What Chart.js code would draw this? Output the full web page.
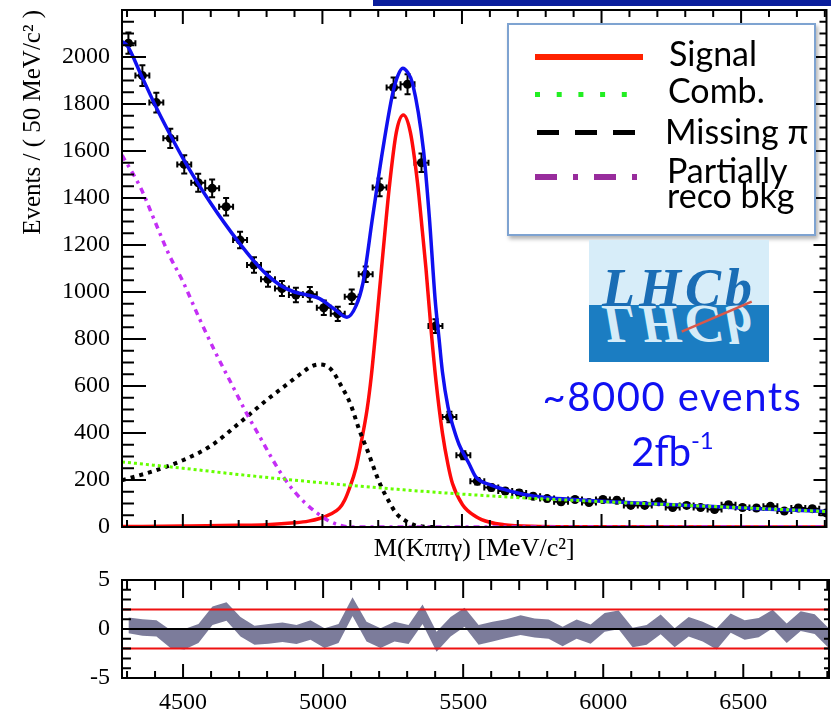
<!DOCTYPE html>
<html>
<head>
<meta charset="utf-8">
<title>M(Kππγ) fit</title>
<script src="https://cdn.jsdelivr.net/npm/chart.js@4.4.1/dist/chart.umd.min.js"></script>
<style>
	html, body { margin: 0; padding: 0; background: #fff; }
	#wrap { position: relative; width: 831px; height: 709px; overflow: hidden; background: #fff; }
	canvas { position: absolute; left: 0; }
	#main { top: 0; }
	#pull { top: 560px; }
	.topbar { position: absolute; left: 373px; top: 0; width: 458px; height: 6px; background: #0a1e9c; }
	.legend {
		position: absolute; left: 507px; top: 23px; width: 309px; height: 213px; box-sizing: border-box;
		border: 2px solid #7ea3d1; background: #fff; box-shadow: 2px 3px 4px rgba(0, 0, 0, 0.3);
		font-family: Lato, "Open Sans", sans-serif; font-size: 34px; line-height: 34px; color: #000;
	}
	.legend svg { position: absolute; left: 0; top: 0; }
	.legend div { position: absolute; white-space: nowrap; }
	.logo {
		position: absolute; left: 589px; top: 240px; width: 180px; height: 122px; overflow: hidden;
		background: linear-gradient(#d7edf9 0, #d7edf9 65px, #1b7dc2 65px, #1b7dc2 100%);
	}
	.logo .lh {
		position: absolute; left: 13px; top: 21px; font-family: "Liberation Serif", serif; font-style: italic;
		font-weight: bold; font-size: 54px; line-height: 54px; letter-spacing: 4px; color: #1a6db5; white-space: nowrap;
	}
	.logo .mirror { color: #d5ecf8; transform-origin: 0 45.2px; transform: scaleY(-1); }
	.logo svg { position: absolute; left: 0; top: 0; }
	.note {
		position: absolute; left: 500px; width: 345px; text-align: center; color: #1010f2;
		font-family: Lato, "Open Sans", sans-serif; font-size: 40px; line-height: 40px; white-space: nowrap;
	}
	.note sup { font-size: 24px; line-height: 0; vertical-align: 17px; }
</style>
</head>
<body>
<div id="wrap">
	<canvas id="main" width="831" height="575"></canvas>
	<canvas id="pull" width="831" height="149"></canvas>
	<div class="topbar"></div>
	<div class="legend">
		<svg width="305" height="209">
			<line x1="26" y1="32" x2="134" y2="32" stroke="#ff2200" stroke-width="6" />
			<line x1="26" y1="69.5" x2="134" y2="69.5" stroke="#22ee22" stroke-width="5" stroke-dasharray="5 16.7" />
			<line x1="28" y1="107.5" x2="134" y2="107.5" stroke="#000" stroke-width="5" stroke-dasharray="22 16" />
			<line x1="26" y1="152" x2="134" y2="152" stroke="#982c9c" stroke-width="6" stroke-dasharray="22 16 5 16" />
		</svg>
		<div style="left: 160px; top: 11px">Signal</div>
		<div style="left: 159px; top: 48px">Comb.</div>
		<div style="left: 156px; top: 89px">Missing π</div>
		<div style="left: 158px; top: 128px">Partially</div>
		<div style="left: 158px; top: 153px">reco bkg</div>
	</div>
	<div class="logo">
		<div class="lh">LHCb</div>
		<div class="lh mirror">LHCb</div>
		<svg width="180" height="122">
			<line x1="92.7" y1="91.7" x2="162.7" y2="61.7" stroke="#d8584a" stroke-width="2.5" />
		</svg>
	</div>
	<div class="note" style="top: 376px; letter-spacing: 1.5px">~8000 events</div>
	<div class="note" style="top: 431px">2fb<sup>-1</sup></div>
</div>
<script>
	// x range of both panels, MeV/c^2
	const xMin = 4282;
	const xMax = 6806;
	const binHalfWidth = 25;

	// data points (50 MeV bins)
	const binCenters = [4305, 4355, 4405, 4455, 4505, 4555, 4605, 4655, 4705, 4755, 4805, 4855, 4905, 4955, 5005, 5055, 5105, 5155, 5205, 5255, 5305, 5355, 5405, 5455, 5505, 5555, 5605, 5655, 5705, 5755, 5805, 5855, 5905, 5955, 6005, 6055, 6105, 6155, 6205, 6255, 6305, 6355, 6405, 6455, 6505, 6555, 6605, 6655, 6705, 6755, 6805];
	const counts = [2059, 1921, 1806, 1654, 1543, 1465, 1441, 1363, 1221, 1115, 1054, 1015, 987, 990, 933, 907, 980, 1076, 1445, 1870, 1884, 1550, 855, 468, 305, 195, 168, 153, 145, 131, 121, 107, 117, 104, 117, 114, 92, 92, 107, 83, 92, 83, 74, 95, 83, 81, 88, 68, 81, 78, 60];
	const countErr = [45, 44, 42, 41, 39, 38, 38, 37, 35, 33, 32, 32, 31, 31, 31, 30, 31, 33, 38, 43, 43, 39, 29, 22, 17, 14, 13, 12, 12, 11, 11, 10, 11, 10, 11, 11, 10, 10, 10, 9, 10, 9, 9, 10, 9, 9, 9, 8, 9, 9, 8];

	// fit components
	const totalX = [4282, 4300, 4350, 4400, 4450, 4500, 4550, 4600, 4650, 4700, 4750, 4800, 4850, 4900, 4950, 4990, 5040, 5088, 5120, 5145, 5180, 5216, 5252, 5270, 5288, 5305, 5323, 5362, 5383, 5404, 5418, 5430, 5450, 5470, 5490, 5525, 5550, 5600, 5650, 5700, 5750, 5800, 5900, 6000, 6200, 6400, 6600, 6806];
	const totalY = [2065, 2050, 1925, 1797, 1680, 1570, 1470, 1378, 1292, 1212, 1138, 1075, 1028, 1000, 986, 972, 930, 893, 940, 1037, 1320, 1604, 1846, 1920, 1952, 1935, 1888, 1604, 1320, 966, 800, 660, 510, 420, 350, 270, 212, 180, 160, 145, 133, 126, 117, 110, 98, 87, 76, 66];
	const signalX = [4282, 4500, 4700, 4800, 4900, 4950, 4990, 5030, 5061, 5080, 5097, 5120, 5139, 5160, 5175, 5190, 5204, 5222, 5240, 5265, 5290, 5315, 5341, 5358, 5371, 5390, 5407, 5430, 5450, 5466, 5502, 5549, 5600, 5650, 5750, 5900, 6806];
	const signalY = [2, 4, 7, 10, 18, 25, 36, 55, 80, 115, 165, 250, 360, 500, 640, 820, 1000, 1230, 1450, 1680, 1753, 1680, 1462, 1260, 1100, 830, 620, 400, 265, 185, 95, 45, 20, 10, 3, 1, 0];
	const combX = [4282, 4500, 4750, 5000, 5250, 5500, 5750, 6000, 6250, 6500, 6806];
	const combY = [277, 250, 217, 188, 162, 140, 122, 108, 95, 82, 66];
	const missX = [4282, 4400, 4500, 4600, 4700, 4800, 4860, 4920, 4960, 4990, 5030, 5070, 5100, 5133, 5160, 5204, 5240, 5265, 5300, 5330, 5360, 5400];
	const missY = [199, 240, 284, 345, 440, 540, 595, 650, 683, 692, 672, 595, 525, 410, 330, 190, 105, 57, 25, 8, 2, 0];
	const partX = [4282, 4350, 4400, 4450, 4500, 4560, 4620, 4680, 4730, 4780, 4820, 4860, 4900, 4940, 4980, 5020, 5060, 5100, 5200, 6806];
	const partY = [1583, 1440, 1300, 1160, 1045, 885, 735, 596, 480, 375, 290, 213, 150, 100, 60, 28, 8, 0, 0, 0];

	// pull band (upper / lower edge per bin)
	const pullHigh = [1.17, 1.0, 0.9, -0.1, 0.0, 0.5, 2.3, 2.73, 1.23, 0.33, 0.5, 0.67, 0.4, 0.9, 0.07, 0.5, 3.23, 0.73, 0.07, 0.73, 0.4, 2.5, -0.27, 1.23, 2.17, 0.4, 0.73, 1.0, 1.4, 1.07, 0.97, 0.23, 0.97, 0.47, 1.63, 1.9, 0.13, 0.4, 1.47, 0.07, 1.23, 0.73, 0.07, 1.57, 0.9, 1.13, 1.97, 0.57, 1.8, 1.5, 0.07];
	const pullLow = [-0.43, -0.7, -0.77, -1.93, -2.1, -1.43, 0.4, 0.83, -0.77, -1.6, -1.5, -1.33, -1.53, -1.1, -1.93, -1.43, 1.33, -1.27, -1.93, -1.27, -1.53, 0.5, -2.33, -0.77, 0.23, -1.6, -1.27, -0.93, -0.6, -0.87, -1.0, -1.77, -1.0, -1.5, -0.27, -0.03, -1.87, -1.6, -0.53, -1.87, -0.77, -1.27, -2.1, -0.37, -1.1, -0.83, 0.07, -1.43, -0.2, -0.5, -1.93];
	const pullLimits = [2, -2];

	// tick labels
	const yTicksMain = [0, 200, 400, 600, 800, 1000, 1200, 1400, 1600, 1800, 2000];
	const yTicksPull = [-5, 0, 5];
	const xTicksPull = [4500, 5000, 5500, 6000, 6500];

	Chart.defaults.font.family = "'Liberation Serif', 'DejaVu Serif', serif";
	Chart.defaults.color = "#000";

	const pts = (xs, ys) => xs.map((v, i) => ({ x: v, y: ys[i] }));
	const labelFn = (v) => String(v);
	const noPad = (s) => {
		s.paddingTop = 0;
		s.paddingBottom = 0;
		s.paddingLeft = 0;
		s.paddingRight = 0;
	};

	// ROOT style frame with inward ticks
	const rootFrame = {
		id: "rootFrame",
		afterDatasetsDraw(chart, args, o) {
			const { ctx, chartArea: a } = chart;
			const sx = chart.scales.x;
			const sy = chart.scales.y;
			ctx.save();
			ctx.strokeStyle = "#000";
			ctx.lineWidth = 2;
			ctx.beginPath();
			for (let v = Math.ceil(sx.min / o.xMinor) * o.xMinor; v <= sx.max; v += o.xMinor) {
				const p = sx.getPixelForValue(v);
				const big = v % o.xMajor === 0;
				ctx.moveTo(p, a.bottom);
				ctx.lineTo(p, a.bottom - (big ? o.xBottom[0] : o.xBottom[1]));
				ctx.moveTo(p, a.top);
				ctx.lineTo(p, a.top + (big ? o.xTop[0] : o.xTop[1]));
			}
			for (let v = Math.ceil(sy.min / o.yMinor) * o.yMinor; v <= sy.max + 1e-9; v += o.yMinor) {
				const p = sy.getPixelForValue(v);
				const big = Math.abs(v % o.yMajor) < 1e-9;
				ctx.moveTo(a.left, p);
				ctx.lineTo(a.left + (big ? o.yLeft[0] : o.yLeft[1]), p);
				ctx.moveTo(a.right, p);
				ctx.lineTo(a.right - (big ? o.yRight[0] : o.yRight[1]), p);
			}
			ctx.stroke();
			ctx.strokeRect(a.left, a.top, a.right - a.left, a.bottom - a.top);
			ctx.restore();
		},
	};

	// error bars of the data points
	const errorBars = {
		id: "errorBars",
		beforeDatasetsDraw(chart) {
			const { ctx, chartArea: a } = chart;
			const x = chart.scales.x;
			const y = chart.scales.y;
			ctx.save();
			ctx.beginPath();
			ctx.rect(a.left, a.top, a.right - a.left, a.bottom - a.top);
			ctx.clip();
			ctx.strokeStyle = "#000";
			ctx.lineWidth = 2;
			ctx.beginPath();
			binCenters.forEach((c, i) => {
				const px = x.getPixelForValue(c);
				const py = y.getPixelForValue(counts[i]);
				const x0 = x.getPixelForValue(c - binHalfWidth);
				const x1 = x.getPixelForValue(c + binHalfWidth);
				const y0 = y.getPixelForValue(counts[i] + countErr[i]);
				const y1 = y.getPixelForValue(counts[i] - countErr[i]);
				ctx.moveTo(x0, py);
				ctx.lineTo(x1, py);
				ctx.moveTo(px, y0);
				ctx.lineTo(px, y1);
				ctx.moveTo(x0, py - 3);
				ctx.lineTo(x0, py + 3);
				ctx.moveTo(x1, py - 3);
				ctx.lineTo(x1, py + 3);
				ctx.moveTo(px - 3, y0);
				ctx.lineTo(px + 3, y0);
				ctx.moveTo(px - 3, y1);
				ctx.lineTo(px + 3, y1);
			});
			ctx.stroke();
			ctx.restore();
		},
	};

	const curve = (xs, ys, color, width, dash, order) => ({
		data: pts(xs, ys),
		showLine: true,
		borderColor: color,
		borderWidth: width,
		borderDash: dash,
		borderCapStyle: "butt",
		pointRadius: 0,
		cubicInterpolationMode: "monotone",
		fill: false,
		order: order,
	});

	let mainChart = new Chart(document.getElementById("main"), {
		type: "scatter",
		data: {
			datasets: [
				{
					data: pts(binCenters, counts),
					pointStyle: "circle",
					pointRadius: 4.5,
					backgroundColor: "#000",
					borderColor: "#000",
					borderWidth: 0,
					order: 10,
				},
				curve(totalX, totalY, "#1010f0", 3.5, [], 5),
				curve(signalX, signalY, "#ff0a0a", 3.5, [], 4),
				curve(missX, missY, "#000", 4, [4, 5], 3),
				curve(partX, partY, "#c42ef5", 3.5, [6, 5, 3, 5], 2),
				curve(combX, combY, "#66ff00", 3, [3, 3], 1),
			],
		},
		options: {
			responsive: false,
			animation: false,
			devicePixelRatio: 1,
			events: [],
			layout: { padding: { top: 10, right: 2, left: 0, bottom: 0 } },
			plugins: {
				legend: { display: false },
				tooltip: { enabled: false },
				rootFrame: {
					xMajor: 500, xMinor: 100, xTop: [14, 7], xBottom: [13, 7],
					yMajor: 200, yMinor: 50, yLeft: [24, 12], yRight: [13, 7],
				},
			},
			scales: {
				x: {
					type: "linear",
					min: xMin,
					max: xMax,
					grid: { display: false, drawTicks: false },
					border: { display: false },
					ticks: { display: false },
					title: {
						display: true,
						text: "M(Kππγ) [MeV/c²]",
						font: { size: 26 },
						padding: { top: 0, bottom: 10 },
					},
					afterFit: (s) => {
						s.height = 48;
						noPad(s);
					},
				},
				y: {
					type: "linear",
					min: 0,
					max: 2200,
					grid: { display: false, drawTicks: false },
					border: { display: false },
					ticks: { font: { size: 24 }, padding: 12, autoSkip: false, callback: labelFn },
					afterBuildTicks: (s) => {
						s.ticks = yTicksMain.map((v) => ({ value: v }));
					},
					title: {
						display: true,
						text: "Events / ( 50 MeV/c² )",
						align: "end",
						font: { size: 25 },
						padding: { top: 18, bottom: 0 },
					},
					afterFit: (s) => {
						s.width = 122;
						noPad(s);
					},
				},
			},
		},
		plugins: [errorBars, rootFrame],
	});

	const flat = (v) => [{ x: xMin, y: v }, { x: xMax, y: v }];

	let pullChart = new Chart(document.getElementById("pull"), {
		type: "scatter",
		data: {
			datasets: [
				{
					data: pts(binCenters, pullHigh),
					showLine: true,
					pointRadius: 0,
					borderWidth: 0,
					borderColor: "transparent",
					backgroundColor: "#7c7c9b",
					fill: "+1",
					order: 5,
				},
				{
					data: pts(binCenters, pullLow),
					showLine: true,
					pointRadius: 0,
					borderWidth: 0,
					borderColor: "transparent",
					fill: false,
					order: 6,
				},
				{ data: flat(0), showLine: true, pointRadius: 0, borderColor: "#000", borderWidth: 2, order: 1 },
				{ data: flat(pullLimits[0]), showLine: true, pointRadius: 0, borderColor: "#ee1111", borderWidth: 2, order: 2 },
				{ data: flat(pullLimits[1]), showLine: true, pointRadius: 0, borderColor: "#ee1111", borderWidth: 2, order: 2 },
			],
		},
		options: {
			responsive: false,
			animation: false,
			devicePixelRatio: 1,
			events: [],
			layout: { padding: { top: 20, right: 2, left: 0, bottom: 0 } },
			plugins: {
				legend: { display: false },
				tooltip: { enabled: false },
				rootFrame: {
					xMajor: 500, xMinor: 100, xTop: [18, 10], xBottom: [14, 7],
					yMajor: 5, yMinor: 1, yLeft: [14, 9], yRight: [7, 5],
				},
			},
			scales: {
				x: {
					type: "linear",
					min: xMin,
					max: xMax,
					grid: { display: false, drawTicks: false },
					border: { display: false },
					ticks: { font: { size: 24 }, padding: 10, autoSkip: false, maxRotation: 0, callback: labelFn },
					afterBuildTicks: (s) => {
						s.ticks = xTicksPull.map((v) => ({ value: v }));
					},
					afterFit: (s) => {
						s.height = 31;
						noPad(s);
					},
				},
				y: {
					type: "linear",
					min: -5,
					max: 5,
					grid: { display: false, drawTicks: false },
					border: { display: false },
					ticks: { font: { size: 24 }, padding: 12, autoSkip: false, callback: labelFn },
					afterBuildTicks: (s) => {
						s.ticks = yTicksPull.map((v) => ({ value: v }));
					},
					afterFit: (s) => {
						s.width = 122;
						noPad(s);
					},
				},
			},
		},
		plugins: [rootFrame],
	});
</script>
</body>
</html>
